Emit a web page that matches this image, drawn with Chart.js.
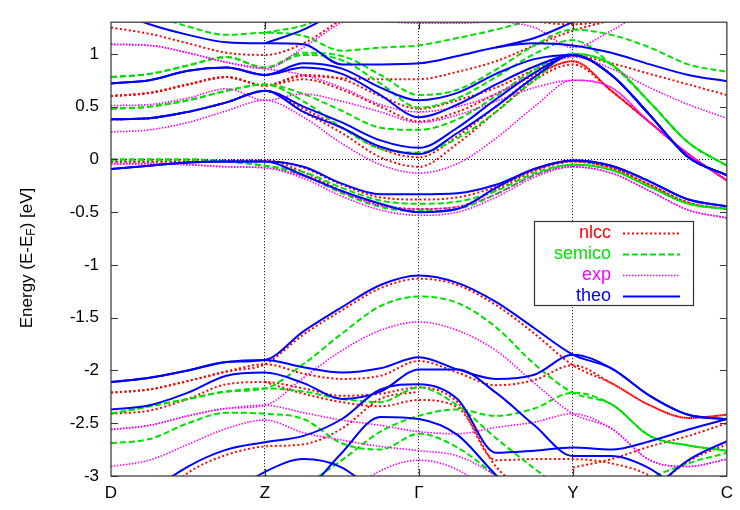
<!DOCTYPE html>
<html lang="en">
<head>
<meta charset="UTF-8">
<title>Band structure</title>
<script src="https://cdn.jsdelivr.net/npm/chart.js@4.4.1/dist/chart.umd.min.js"></script>
<style>
  html, body { margin: 0; padding: 0; background: #fff; }
  #wrap { width: 740px; height: 510px; position: relative; }
</style>
</head>
<body>
<div id="wrap"><canvas id="bands"></canvas></div>
<script>
// k-path sample points (D=0, Z=1, Gamma=2, Y=3, C=4), every 0.25
const kPoints = [0, 0.25, 0.5, 0.75, 1, 1.25, 1.5, 1.75, 2, 2.25, 2.5, 2.75, 3, 3.25, 3.5, 3.75, 4];
const kLabels = ['D', 'Z', 'Γ', 'Y', 'C'];
const energyTicks = [-3, -2.5, -2, -1.5, -1, -0.5, 0, 0.5, 1];
const N = null;

// theo (blue, solid)
const theoBands = [
  [1.42, 1.28, 1.18, 1.11, 1.10, 1.09, 0.90, 0.90, 0.91, 0.98, 1.06, 1.10, 1.08, 1.01, 0.90, 0.80, 0.74],
  [N, N, N, N, 1.10, 1.23, 1.42, N, N, N, 1.06, 1.15, 1.30, 1.45, N, N, N],
  [0.72, 0.75, 0.84, 0.87, 0.80, 0.91, 0.86, 0.68, 0.56, 0.63, 0.81, 0.95, 0.99, 0.80, 0.42, 0.02, -0.15],
  [0.72, 0.75, 0.84, 0.87, 0.80, 0.87, 0.81, 0.61, 0.40, 0.52, 0.71, 0.88, 0.99, 0.80, 0.42, 0.02, -0.15],
  [0.38, 0.39, 0.45, 0.54, 0.65, 0.50, 0.35, 0.18, 0.11, 0.30, 0.57, 0.82, 0.99, 0.80, 0.42, 0.02, -0.15],
  [0.38, 0.39, 0.45, 0.54, 0.65, 0.45, 0.30, 0.12, 0.05, 0.25, 0.50, 0.78, 0.99, 0.80, 0.42, 0.02, -0.15],
  [-0.09, -0.06, -0.03, -0.02, -0.02, -0.07, -0.23, -0.33, -0.33, -0.32, -0.24, -0.09, -0.01, -0.06, -0.21, -0.38, -0.445],
  [-0.09, -0.06, -0.03, -0.02, -0.02, -0.15, -0.30, -0.42, -0.50, -0.47, -0.27, -0.09, -0.01, -0.06, -0.21, -0.38, -0.445],
  [-2.11, -2.07, -2.00, -1.92, -1.90, -1.63, -1.40, -1.19, -1.10, -1.17, -1.35, -1.60, -1.85, -1.98, -2.24, -2.42, -2.46],
  [-2.11, -2.07, -2.00, -1.92, -1.90, -1.97, -2.02, -1.98, -1.875, -1.99, -2.08, -2.04, -1.85, -1.98, -2.24, -2.42, -2.46],
  [-3.4, -3.15, -2.91, -2.75, -2.68, -2.62, -2.46, -2.18, -2.13, -2.27, -2.78, -2.76, -2.73, -2.75, -2.67, -2.56, -2.46],
  [-2.37, -2.33, -2.21, -2.05, -2.02, -2.12, -2.27, -2.20, -1.99, -1.99, -2.21, -2.52, -2.81, -2.81, -2.93, -3.2, N],
  [N, N, N, N, N, -3.2, -2.78, -2.44, -2.46, -2.61, -2.99, -3.3, N, N, N, N, N],
  [N, N, N, -3.2, -2.96, -2.84, -2.92, -3.2, N, N, N, N, N, N, N, N, N],
  [N, N, N, N, N, N, N, N, N, N, N, N, N, N, -3.15, -2.85, -2.67]
];

// nlcc (red, dotted)
const nlccBands = [
  [1.25, 1.19, 1.10, 1.01, 0.99, 1.10, 1.33, N, N, N, N, N, N, N, N, N, N],
  [0.60, 0.63, 0.71, 0.78, 0.70, 0.79, 0.77, 0.76, 0.76, 0.83, 0.93, 1.08, 1.22, 1.32, 1.45, N, N],
  [0.60, 0.63, 0.71, 0.78, 0.70, 0.80, 0.76, 0.60, 0.48, 0.56, 0.68, 0.85, 0.98, 0.91, 0.81, 0.71, 0.61],
  [0.60, 0.63, 0.71, 0.78, 0.70, 0.76, 0.66, 0.50, 0.36, 0.45, 0.62, 0.80, 0.93, 0.65, 0.35, 0.05, -0.20],
  [0.38, 0.39, 0.45, 0.54, 0.65, 0.48, 0.30, 0.10, 0.02, 0.22, 0.50, 0.78, 0.93, 0.65, 0.35, 0.05, -0.20],
  [0.38, 0.39, 0.45, 0.54, 0.65, 0.45, 0.25, 0.02, -0.07, 0.15, 0.45, 0.75, 0.90, 0.65, 0.35, 0.05, -0.20],
  [N, N, N, N, N, N, N, N, N, N, 1.40, 1.31, 1.28, 1.32, 1.40, N, N],
  [-0.02, -0.02, -0.02, -0.01, -0.01, -0.08, -0.24, -0.36, -0.38, -0.36, -0.26, -0.10, -0.02, -0.08, -0.24, -0.41, -0.47],
  [-0.02, -0.02, -0.02, -0.01, -0.01, -0.12, -0.30, -0.43, -0.47, -0.45, -0.29, -0.11, -0.02, -0.08, -0.24, -0.41, -0.47],
  [-2.21, -2.18, -2.10, -2.01, -1.94, -1.66, -1.43, -1.22, -1.13, -1.19, -1.38, -1.65, -1.95, -2.12, -2.33, -2.45, -2.42],
  [-2.21, -2.18, -2.10, -2.01, -1.94, -2.03, -2.08, -2.05, -1.91, -2.02, -2.14, -2.09, -1.95, -2.12, -2.33, -2.45, -2.42],
  [-2.41, -2.38, -2.27, -2.13, -2.11, -2.17, -2.24, -2.22, -2.16, -2.30, -2.85, -2.84, -2.84, -2.88, -3.0, -3.3, N],
  [N, -3.3, -2.97, -2.80, -2.72, -2.70, -2.55, -2.27, -2.20, N, N, N, N, N, N, N, N],
  [N, N, N, N, -2.11, -2.22, -2.30, -2.34, -2.28, -2.35, -2.91, -3.2, N, N, N, N, N],
  [N, N, N, N, N, N, N, N, N, N, N, N, -2.92, -2.84, -2.72, -2.62, -2.50],
  [N, N, N, N, N, N, N, N, N, N, N, N, N, N, -3.15, -2.86, -2.70]
];

// semico (green, dashed)
const semicoBands = [
  [1.5, 1.38, 1.26, 1.18, 1.20, 1.17, 1.03, 1.06, 1.08, 1.15, 1.23, 1.33, 1.45, N, N, N, N],
  [N, N, N, N, 1.20, 1.27, 1.42, N, N, N, N, N, N, N, N, N, N],
  [0.78, 0.81, 0.89, 0.97, 0.87, 1.01, 0.98, 0.80, 0.61, 0.66, 0.85, 1.08, 1.23, 1.18, 1.06, 0.90, 0.83],
  [0.78, 0.81, 0.89, 0.97, 0.87, 0.99, 0.94, 0.72, 0.49, 0.58, 0.78, 1.00, 1.13, 0.90, 0.54, 0.16, -0.06],
  [0.48, 0.50, 0.56, 0.65, 0.71, 0.62, 0.46, 0.30, 0.28, 0.38, 0.60, 0.85, 1.00, 0.90, 0.54, 0.16, -0.06],
  [0.48, 0.50, 0.56, 0.65, 0.71, 0.55, 0.30, 0.10, 0.065, 0.20, 0.45, 0.75, 1.00, 0.90, 0.54, 0.16, -0.06],
  [0.0, 0.0, 0.0, -0.02, -0.06, -0.12, -0.27, -0.39, -0.42, -0.40, -0.30, -0.13, -0.05, -0.10, -0.26, -0.42, -0.47],
  [0.0, 0.0, 0.0, -0.02, -0.06, -0.15, -0.32, -0.45, -0.49, -0.47, -0.33, -0.15, -0.05, -0.10, -0.26, -0.42, -0.47],
  [-2.41, -2.34, -2.27, -2.20, -2.17, -1.94, -1.65, -1.39, -1.30, -1.36, -1.59, -1.94, -2.21, -2.32, -2.62, -2.71, -2.76],
  [-2.41, -2.34, -2.27, -2.20, -2.17, -2.20, -2.27, -2.30, -2.16, -2.33, -2.64, -2.93, -3.2, N, N, N, N],
  [-2.69, -2.65, -2.50, -2.40, -2.41, -2.46, -2.69, -2.75, -2.60, -2.73, -3.0, -3.3, N, N, N, N, N],
  [N, N, N, N, N, -3.1, -2.85, -2.58, -2.43, -2.37, -2.43, -2.36, -2.21, -2.32, -2.62, -2.71, -2.76],
  [N, N, N, N, N, N, N, N, N, N, N, N, N, -3.3, -3.03, -2.88, -2.78]
];

// exp (magenta, fine dots)
const expBands = [
  [1.09, 1.08, 1.01, 0.92, 0.86, 1.06, 1.30, 1.45, N, N, N, N, N, N, N, N, N],
  [1.09, 1.08, 1.01, 0.92, 0.86, 0.80, 0.68, 0.52, 0.45, 0.50, 0.62, 0.82, 0.97, 0.86, 0.68, 0.52, 0.39],
  [0.51, 0.52, 0.58, 0.67, 0.56, 0.62, 0.55, 0.45, 0.35, 0.42, 0.55, 0.68, 0.75, 0.68, 0.35, 0.05, -0.20],
  [0.26, 0.28, 0.35, 0.46, 0.56, 0.40, 0.15, -0.05, -0.13, -0.04, 0.20, 0.50, 0.75, 0.68, 0.35, 0.05, -0.20],
  [N, N, N, N, N, N, N, 1.31, 1.29, 1.29, 1.30, 1.25, 1.06, 1.22, 1.45, N, N],
  [-0.04, -0.04, -0.05, -0.07, -0.08, -0.16, -0.31, -0.44, -0.47, -0.45, -0.33, -0.15, -0.07, -0.13, -0.30, -0.48, -0.555],
  [-0.04, -0.04, -0.05, -0.07, -0.08, -0.18, -0.35, -0.48, -0.53, -0.50, -0.36, -0.17, -0.07, -0.13, -0.30, -0.48, -0.555],
  [-2.56, -2.52, -2.43, -2.36, -2.33, -2.07, -1.81, -1.62, -1.54, -1.62, -1.81, -2.12, -2.41, -2.55, -2.85, -2.91, -2.84],
  [-2.56, -2.52, -2.43, -2.36, -2.33, -2.40, -2.47, -2.52, -2.58, -2.60, -2.54, -2.49, -2.41, -2.55, -2.85, -2.91, -2.84],
  [-2.91, -2.85, -2.70, -2.55, -2.47, -2.59, -2.66, -2.72, -2.76, -2.81, -3.0, -3.3, N, N, N, N, N],
  [N, N, N, N, N, N, -3.2, -2.95, -2.85, -2.94, -3.2, N, N, N, N, N, N]
];

const FONT = '"Liberation Sans", Arial, Helvetica, sans-serif';

const seriesStyle = [
  { name: 'nlcc',   bands: nlccBands,   color: '#ff0000', dash: [2, 2.5],   width: 2,   order: 4 },
  { name: 'semico', bands: semicoBands, color: '#00e000', dash: [6, 3],     width: 2,   order: 3 },
  { name: 'exp',    bands: expBands,    color: '#ff00ff', dash: [1.5, 1.5], width: 1.6, order: 2 },
  { name: 'theo',   bands: theoBands,   color: '#0000ff', dash: [],         width: 2,   order: 1 }
];

const datasets = [];
seriesStyle.forEach(function(s) {
  s.bands.forEach(function(band, j) {
    datasets.push({
      label: s.name + ' ' + (j + 1),
      data: band.map(function(v, i) { return { x: kPoints[i], y: v }; }),
      borderColor: s.color,
      borderWidth: s.width,
      borderDash: s.dash,
      pointRadius: 0,
      fill: false,
      cubicInterpolationMode: 'monotone',
      spanGaps: false,
      clip: 0,
      order: s.order
    });
  });
});

// frame, inward ticks, y title, legend box
const decorations = {
  id: 'decorations',
  afterDraw: function(chart) {
    const ctx = chart.ctx;
    const a = chart.chartArea;
    const xs = chart.scales.x, ys = chart.scales.y;
    ctx.save();
    ctx.strokeStyle = '#333';
    ctx.lineWidth = 1.2;
    ctx.strokeRect(a.left, a.top, a.right - a.left, a.bottom - a.top);
    ctx.beginPath();
    energyTicks.forEach(function(v) {
      const py = Math.round(ys.getPixelForValue(v)) + 0.5;
      ctx.moveTo(a.left, py); ctx.lineTo(a.left + 7, py);
      ctx.moveTo(a.right, py); ctx.lineTo(a.right - 7, py);
    });
    [1, 2, 3].forEach(function(v) {
      const px = Math.round(xs.getPixelForValue(v)) + 0.5;
      ctx.moveTo(px, a.bottom); ctx.lineTo(px, a.bottom - 7);
      ctx.moveTo(px, a.top); ctx.lineTo(px, a.top + 7);
    });
    ctx.stroke();

    // y axis title with subscript F
    ctx.fillStyle = '#000';
    ctx.textBaseline = 'middle';
    const big = '17px ' + FONT, small = '12px ' + FONT;
    const parts = [['Energy (E-E', big, 0], ['F', small, 5], [') [eV]', big, 0]];
    let total = 0;
    parts.forEach(function(p) { ctx.font = p[1]; total += ctx.measureText(p[0]).width; });
    ctx.translate(27, 258);
    ctx.rotate(-Math.PI / 2);
    let cx = -total / 2;
    ctx.textAlign = 'left';
    parts.forEach(function(p) {
      ctx.font = p[1];
      ctx.fillText(p[0], cx, p[2]);
      cx += ctx.measureText(p[0]).width;
    });
    ctx.restore();

    // legend
    ctx.save();
    ctx.fillStyle = '#fff';
    ctx.fillRect(534, 221, 159, 84);
    ctx.strokeStyle = '#333';
    ctx.lineWidth = 1.2;
    ctx.strokeRect(534.5, 221.5, 159, 84);
    ctx.font = '18px ' + FONT;
    ctx.textAlign = 'right';
    ctx.textBaseline = 'middle';
    seriesStyle.forEach(function(s, i) {
      const yy = 233 + i * 21;
      ctx.fillStyle = s.color;
      ctx.fillText(s.name, 611, yy);
      ctx.strokeStyle = s.color;
      ctx.lineWidth = s.width;
      ctx.setLineDash(s.dash);
      ctx.beginPath();
      ctx.moveTo(623, yy + 0.5);
      ctx.lineTo(680, yy + 0.5);
      ctx.stroke();
    });
    ctx.restore();
  }
};

new Chart(document.getElementById('bands'), {
  type: 'line',
  data: { datasets: datasets },
  options: {
    responsive: true,
    maintainAspectRatio: false,
    animation: false,
    events: [],
    layout: { padding: { top: 7, right: 8, left: 0, bottom: 0 } },
    plugins: { legend: { display: false }, tooltip: { enabled: false }, title: { display: false } },
    scales: {
      x: {
        type: 'linear', min: 0, max: 4,
        afterBuildTicks: function(s) { s.ticks = [0, 1, 2, 3, 4].map(function(v) { return { value: v }; }); },
        afterFit: function(s) { s.height = 34; },
        ticks: {
          autoSkip: false, maxRotation: 0, padding: 7, color: '#000',
          font: { size: 17, family: FONT },
          callback: function(v) { return kLabels[v]; }
        },
        grid: {
          drawTicks: false, lineWidth: 1,
          color: function(c) { return (c.tick && [1, 2, 3].indexOf(c.tick.value) >= 0) ? '#000' : 'rgba(0,0,0,0)'; }
        },
        border: { display: false, dash: [1, 2] }
      },
      y: {
        type: 'linear', min: -3, max: 1.3,
        afterBuildTicks: function(s) { s.ticks = energyTicks.map(function(v) { return { value: v }; }); },
        afterFit: function(s) { s.width = 111; },
        ticks: {
          padding: 12, color: '#000',
          font: { size: 17, family: FONT },
          callback: function(v) { return String(v); }
        },
        grid: {
          drawTicks: false, lineWidth: 1,
          color: function(c) { return (c.tick && c.tick.value === 0) ? '#000' : 'rgba(0,0,0,0)'; }
        },
        border: { display: false, dash: [1, 2] }
      }
    }
  },
  plugins: [decorations]
});
</script>
</body>
</html>
